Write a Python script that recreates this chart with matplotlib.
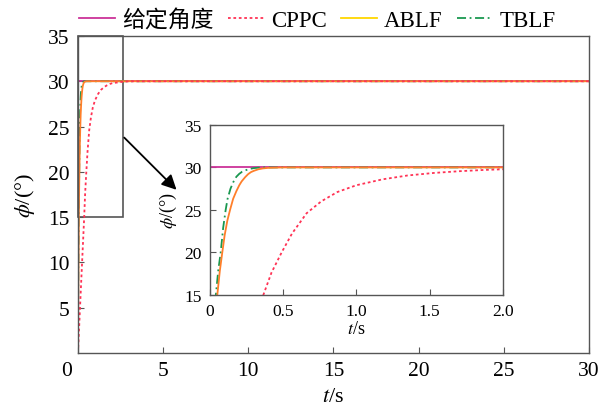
import matplotlib.pyplot as plt
from matplotlib.lines import Line2D
from matplotlib.patches import Rectangle
from matplotlib.transforms import ScaledTranslation

plt.rcParams['font.family'] = ['Liberation Serif', 'Noto Sans CJK SC']
plt.rcParams['mathtext.fontset'] = 'stix'

# data (t in s, phi in degrees)
t_ref = [0, 30]
phi_ref = [30, 30]

t_cppc = [0, 0.18, 0.365, 0.42, 0.49, 0.56, 0.66, 0.76, 0.87, 1.0, 1.18, 1.35, 1.53,
          1.7, 1.87, 2.0, 2.5, 3.0, 30]
phi_cppc = [0, 7.5, 15, 17.6, 20, 22.2, 24.6, 26.0, 27.1, 27.9, 28.6, 29.05, 29.35,
            29.55, 29.7, 29.78, 29.92, 30, 30]

t_ablf = [0, 0.02, 0.05, 0.067, 0.084, 0.1, 0.118, 0.137, 0.158, 0.18, 0.2, 0.216,
          0.24, 0.26, 0.28, 0.3, 0.33, 0.36, 0.4, 0.5, 30]
phi_ablf = [0, 7, 15, 17.8, 20, 22, 23.7, 25, 26.3, 27.2, 27.9, 28.35,
            28.85, 29.2, 29.45, 29.6, 29.78, 29.88, 29.95, 30, 30]

t_tblf = [0, 0.02, 0.04, 0.056, 0.073, 0.09, 0.107, 0.12, 0.14, 0.16, 0.18, 0.2,
          0.22, 0.24, 0.27, 0.3, 0.35, 30]
phi_tblf = [0, 9, 15, 17.8, 20, 22.9, 25, 26.3, 27.5, 28.3, 28.9, 29.25,
            29.5, 29.65, 29.82, 29.92, 30, 30]

c_ref = '#CC3399'
c_cppc = '#FF3355'
c_ablf = '#FF7F2A'
c_ablf_leg = '#FFD700'
c_tblf = '#1A9850'
spine_c = '#555555'

fig = plt.figure(figsize=(6.13, 4.10), dpi=100)
ax = fig.add_axes([0.1272, 0.1366, 0.8336, 0.7732])


def draw(a, lw):
    a.plot(t_ref, phi_ref, color=c_ref, lw=lw)
    a.plot(t_tblf, phi_tblf, color=c_tblf, lw=lw, linestyle=(0, (5, 2, 1, 2)))
    a.plot(t_ablf, phi_ablf, color=c_ablf, lw=lw)
    a.plot(t_cppc, phi_cppc, color=c_cppc, lw=lw, linestyle=(0, (1.5, 1.5)))


def style(a, size):
    for s in a.spines.values():
        s.set_color(spine_c)
        s.set_linewidth(1.0)
    a.tick_params(direction='in', top=False, right=False, labelsize=size,
                  color=spine_c, length=4, pad=6)


draw(ax, 1.3)
ax.set_xlim(0, 30)
ax.set_ylim(0, 35)
ax.set_xticks([0, 5, 10, 15, 20, 25, 30])
ax.set_yticks([5, 10, 15, 20, 25, 30, 35])
style(ax, 15.5)
ax.set_xlabel('$t$/s', fontsize=16, labelpad=5)
ax.set_ylabel(r'$\phi$/(°)', fontsize=16, labelpad=8)

# shift the "0" label to the corner, as in the original
lab0 = ax.get_xticklabels()[0]
lab0.set_transform(lab0.get_transform() + ScaledTranslation(-0.11, 0, fig.dpi_scale_trans))

ax.add_patch(Rectangle((0, 15), 2.65, 20, fill=False, edgecolor=spine_c, lw=1.2, clip_on=False))
ax.annotate('', xy=(5.9, 17.8), xytext=(2.6, 24),
            arrowprops=dict(arrowstyle='-|>', color='black', lw=1.3, mutation_scale=22))

ins = fig.add_axes([0.3426, 0.2788, 0.4775, 0.4139])
draw(ins, 1.3)
ins.set_xlim(0, 2)
ins.set_ylim(15, 35)
ins.set_xticks([0, 0.5, 1.0, 1.5, 2.0])
ins.set_xticklabels(['0', '0.5', '1.0', '1.5', '2.0'])
ins.set_yticks([15, 20, 25, 30, 35])
style(ins, 12.5)
ins.set_xlabel('$t$/s', fontsize=13, labelpad=1)
ins.set_ylabel(r'$\phi$/(°)', fontsize=13, labelpad=4)

handles = [
    Line2D([], [], color=c_ref, lw=1.3),
    Line2D([], [], color=c_cppc, lw=1.3, linestyle=(0, (1.5, 1.5))),
    Line2D([], [], color=c_ablf_leg, lw=1.3),
    Line2D([], [], color=c_tblf, lw=1.3, linestyle=(0, (5, 2, 1, 2))),
]
labels = ['给定角度', 'CPPC', 'ABLF', 'TBLF']
fig.legend(handles, labels, loc='upper center', bbox_to_anchor=(0.518, 1.025), ncol=4,
           frameon=False, fontsize=16.5, handlelength=1.6, handletextpad=0.3,
           columnspacing=0.6)

plt.savefig('out.png', dpi=100)
